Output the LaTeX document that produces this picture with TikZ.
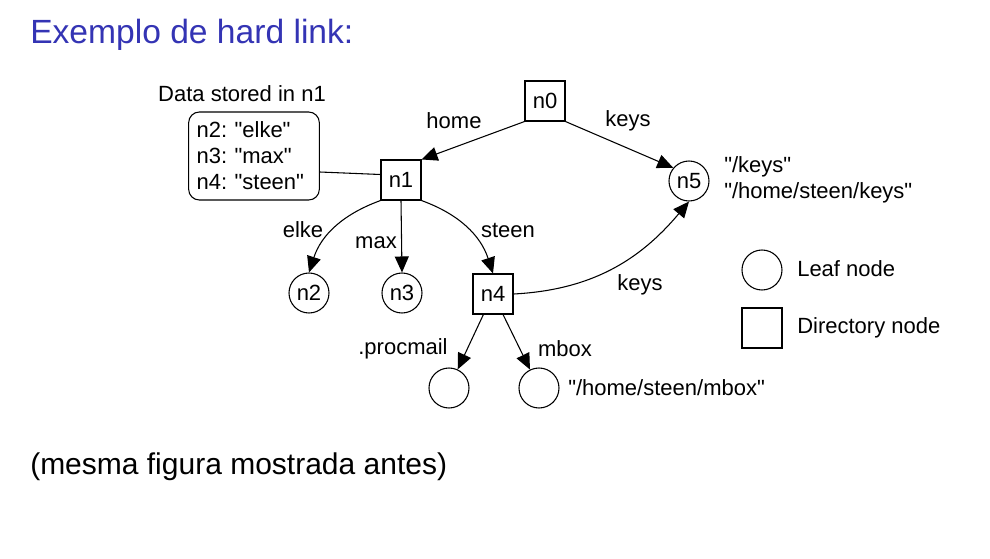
\documentclass[tikz,border=0pt]{standalone}
\usepackage{fontspec}
\setmainfont{Liberation Sans}
\usetikzlibrary{arrows.meta,positioning}
\definecolor{titleblue}{RGB}{52,52,180}
\newcommand{\dq}{\textquotedbl}
\frenchspacing

\begin{document}
\begin{tikzpicture}[x=0.75pt,y=-0.75pt,
    every node/.style={font=\fontsize{16.5}{19.5}\selectfont},
    dirnode/.style={draw, line width=0.8pt, minimum width=30pt, minimum height=30pt, inner sep=0pt},
    leafnode/.style={draw, circle, line width=0.8pt, minimum size=30pt, inner sep=0pt},
    link/.style={line width=0.8pt, -{Triangle[length=12pt,width=10.5pt]}}]
    \useasboundingbox (0,0) rectangle (990,558);

    % heading and footnote
    \node [anchor=base west, inner sep=0pt, text=titleblue, font=\fontsize{25.2}{30}\selectfont] (title) at (30,43) {Exemplo de hard link:};
    \node [anchor=base west, inner sep=0pt, font=\fontsize{22.5}{27}\selectfont] (footer) at (30,474) {(mesma figura mostrada antes)};

    % directory and leaf nodes
    \node [dirnode] (n0) at (545,101) {n0};
    \node [dirnode] (n1) at (401,180) {n1};
    \node [dirnode] (n4) at (493,294) {n4};
    \node [leafnode] (n2) at (309,293) {n2};
    \node [leafnode] (n3) at (402,293) {n3};
    \node [leafnode] (n5) at (689,181) {n5};
    \node [leafnode] (procmail) at (449,388) {};
    \node [leafnode] (mbox) at (539,388) {};

    % contents of n1
    \node [draw, rounded corners=8pt, line width=0.8pt, align=left, text width=86pt, inner xsep=6pt, minimum height=66pt] (data) at (254,156) {n2: \dq elke\dq\\n3: \dq max\dq\\n4: \dq steen\dq};
    \node [inner sep=0pt] (datatitle) at (242,94) {Data stored in n1};
    \draw [line width=0.8pt] ([yshift=-12pt]data.east) -- (n1.165);

    % links
    \draw [link] (n0.south west) -- (n1.north east);
    \draw [link] (n0.south east) -- (n5.140);
    \draw [link] (n1.south west) to [out=200, in=72] (n2.north);
    \draw [link] (n1.south) -- (n3.north);
    \draw [link] (n1.south east) to [out=-20, in=108] (n4.north);
    \draw [link] (n4.east) to [out=3, in=-130] (n5.south);
    \draw [link] (n4) -- (procmail);
    \draw [link] (n4) -- (mbox);

    % link names
    \node [inner sep=0pt] (lhome) at (454,121) {home};
    \node [inner sep=0pt] (lkeys) at (628,121) {keys};
    \node [inner sep=0pt] (lelke) at (303,230) {elke};
    \node [inner sep=0pt] (lmax) at (376,243) {max};
    \node [inner sep=0pt] (lsteen) at (508,230) {steen};
    \node [inner sep=0pt] (lkeys2) at (640,285) {keys};
    \node [inner sep=0pt] (lproc) at (403,349) {.procmail};
    \node [inner sep=0pt] (lmbox) at (565,349) {mbox};

    % path names
    \node [anchor=west, align=left, inner sep=0pt] (n5names) at (724,180) {\dq/keys\dq\\\dq/home/steen/keys\dq};
    \node [anchor=west, inner sep=0pt] (mboxname) at (568,388) {\dq/home/steen/mbox\dq};

    % legend
    \node [leafnode] (legleaf) at (762,270) {};
    \node [dirnode] (legdir) at (762,328) {};
    \node [anchor=west, inner sep=0pt] (legleaftext) at (797,269) {Leaf node};
    \node [anchor=west, inner sep=0pt] (legdirtext) at (797,328) {Directory node};
\end{tikzpicture}
\end{document}
